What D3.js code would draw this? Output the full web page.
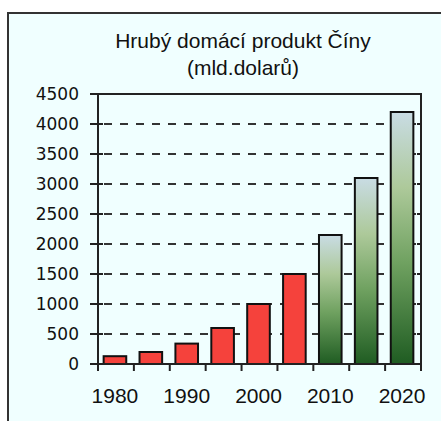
<!DOCTYPE html>
<html>
<head>
<meta charset="utf-8">
<script src="https://cdn.jsdelivr.net/npm/d3@7"></script>
<style>
  body { margin: 0; background: #fff; }
  svg { display: block; }
</style>
</head>
<body>
<svg id="chart" width="441" height="421"></svg>
<script>
// data
const years = ["1980", "1985", "1990", "1995", "2000", "2005", "2010", "2015", "2020"]
const gdp = [130, 200, 340, 600, 1000, 1500, 2150, 3100, 4200]
const forecast = [false, false, false, false, false, false, true, true, true]
const yTicks = [0, 500, 1000, 1500, 2000, 2500, 3000, 3500, 4000, 4500]
const xLabels = ["1980", "1990", "2000", "2010", "2020"]
const titleLines = ["Hrubý domácí produkt Číny", "(mld.dolarů)"]

const svg = d3.select("#chart")
const plotL = 98, plotR = 421, plotT = 94, plotB = 364

// panel background + frame
svg.append("rect")
  .attr("x", 8).attr("y", 13).attr("width", 441 - 8).attr("height", 421 - 13)
  .attr("fill", "#f0ffff")
svg.append("path")
  .attr("d", "M8,421V13H441")
  .attr("fill", "none").attr("stroke", "#333").attr("stroke-width", 2)

// title
svg.append("g").selectAll("text")
  .data(titleLines).enter()
  .append("text")
  .attr("x", 243)
  .attr("y", (d, i) => 48 + i * 27)
  .attr("text-anchor", "middle")
  .style("font", "21px 'Liberation Sans', Arial, sans-serif")
  .attr("fill", "#111")
  .text(d => d)

const x = d3.scaleBand()
  .domain(years)
  .range([plotL, plotR])
  .paddingInner(0.37)
  .paddingOuter(0.185)
const y = d3.scaleLinear()
  .domain([0, 4500])
  .range([plotB, plotT])

// gradient for forecast bars
const grad = svg.append("defs").append("linearGradient")
  .attr("id", "green").attr("x1", 0).attr("y1", 0).attr("x2", 0).attr("y2", 1)
const stops = [[0, "#c9dce4"], [0.3, "#adc99a"], [0.6, "#6fa160"], [1, "#1f5c22"]]
grad.selectAll("stop").data(stops).enter().append("stop")
  .attr("offset", d => d[0]).attr("stop-color", d => d[1])

// dashed gridlines
svg.append("g").selectAll("line")
  .data(yTicks.filter(d => d > 0 && d < 4500)).enter()
  .append("line")
  .attr("x1", plotL + 6).attr("x2", plotR)
  .attr("y1", d => y(d)).attr("y2", d => y(d))
  .attr("stroke", "#333").attr("stroke-width", 2)
  .attr("stroke-dasharray", "8,8")

// bars
const step = x.step()
svg.append("g").selectAll("rect")
  .data(years).enter()
  .append("rect")
  .attr("x", d => x(d) - 1)
  .attr("y", (d, i) => y(gdp[i]))
  .attr("width", x.bandwidth())
  .attr("height", (d, i) => plotB - y(gdp[i]))
  .attr("fill", (d, i) => forecast[i] ? "url(#green)" : "#f5423c")
  .attr("stroke", "#111").attr("stroke-width", 2)

// axes frame
const ax = svg.append("g").attr("stroke", "#222").attr("stroke-width", 2).attr("fill", "none")
ax.append("path").attr("d", `M${plotL - 8},${plotT}H${plotR}V${plotB}H${plotL - 8}M${plotL},${plotT}V${plotB + 6}`)

// y ticks
ax.selectAll(".yt")
  .data(yTicks).enter()
  .append("path")
  .attr("d", d => `M${plotL - 8},${y(d)}H${plotL + 5}M${plotR - 4},${y(d)}H${plotR}`)

// x ticks at band boundaries
const bounds = years.map(d => x(d) - x.paddingInner() * step / 2).concat([plotR])
ax.selectAll(".xt")
  .data(bounds).enter()
  .append("path")
  .attr("d", d => `M${d},${plotB}V${plotB + 7}`)

// y labels
svg.append("g").selectAll("text")
  .data(yTicks).enter()
  .append("text")
  .attr("x", 79)
  .attr("y", d => y(d) + 6)
  .attr("text-anchor", "end")
  .style("font", "17px 'DejaVu Sans', sans-serif")
  .attr("fill", "#111")
  .text(d => d)

// x labels
svg.append("g").selectAll("text")
  .data(xLabels).enter()
  .append("text")
  .attr("x", d => x(d) + x.bandwidth() / 2 - 1)
  .attr("y", 403)
  .attr("text-anchor", "middle")
  .style("font", "21px 'Liberation Sans', Arial, sans-serif")
  .attr("fill", "#111")
  .text(d => d)
</script>
</body>
</html>
